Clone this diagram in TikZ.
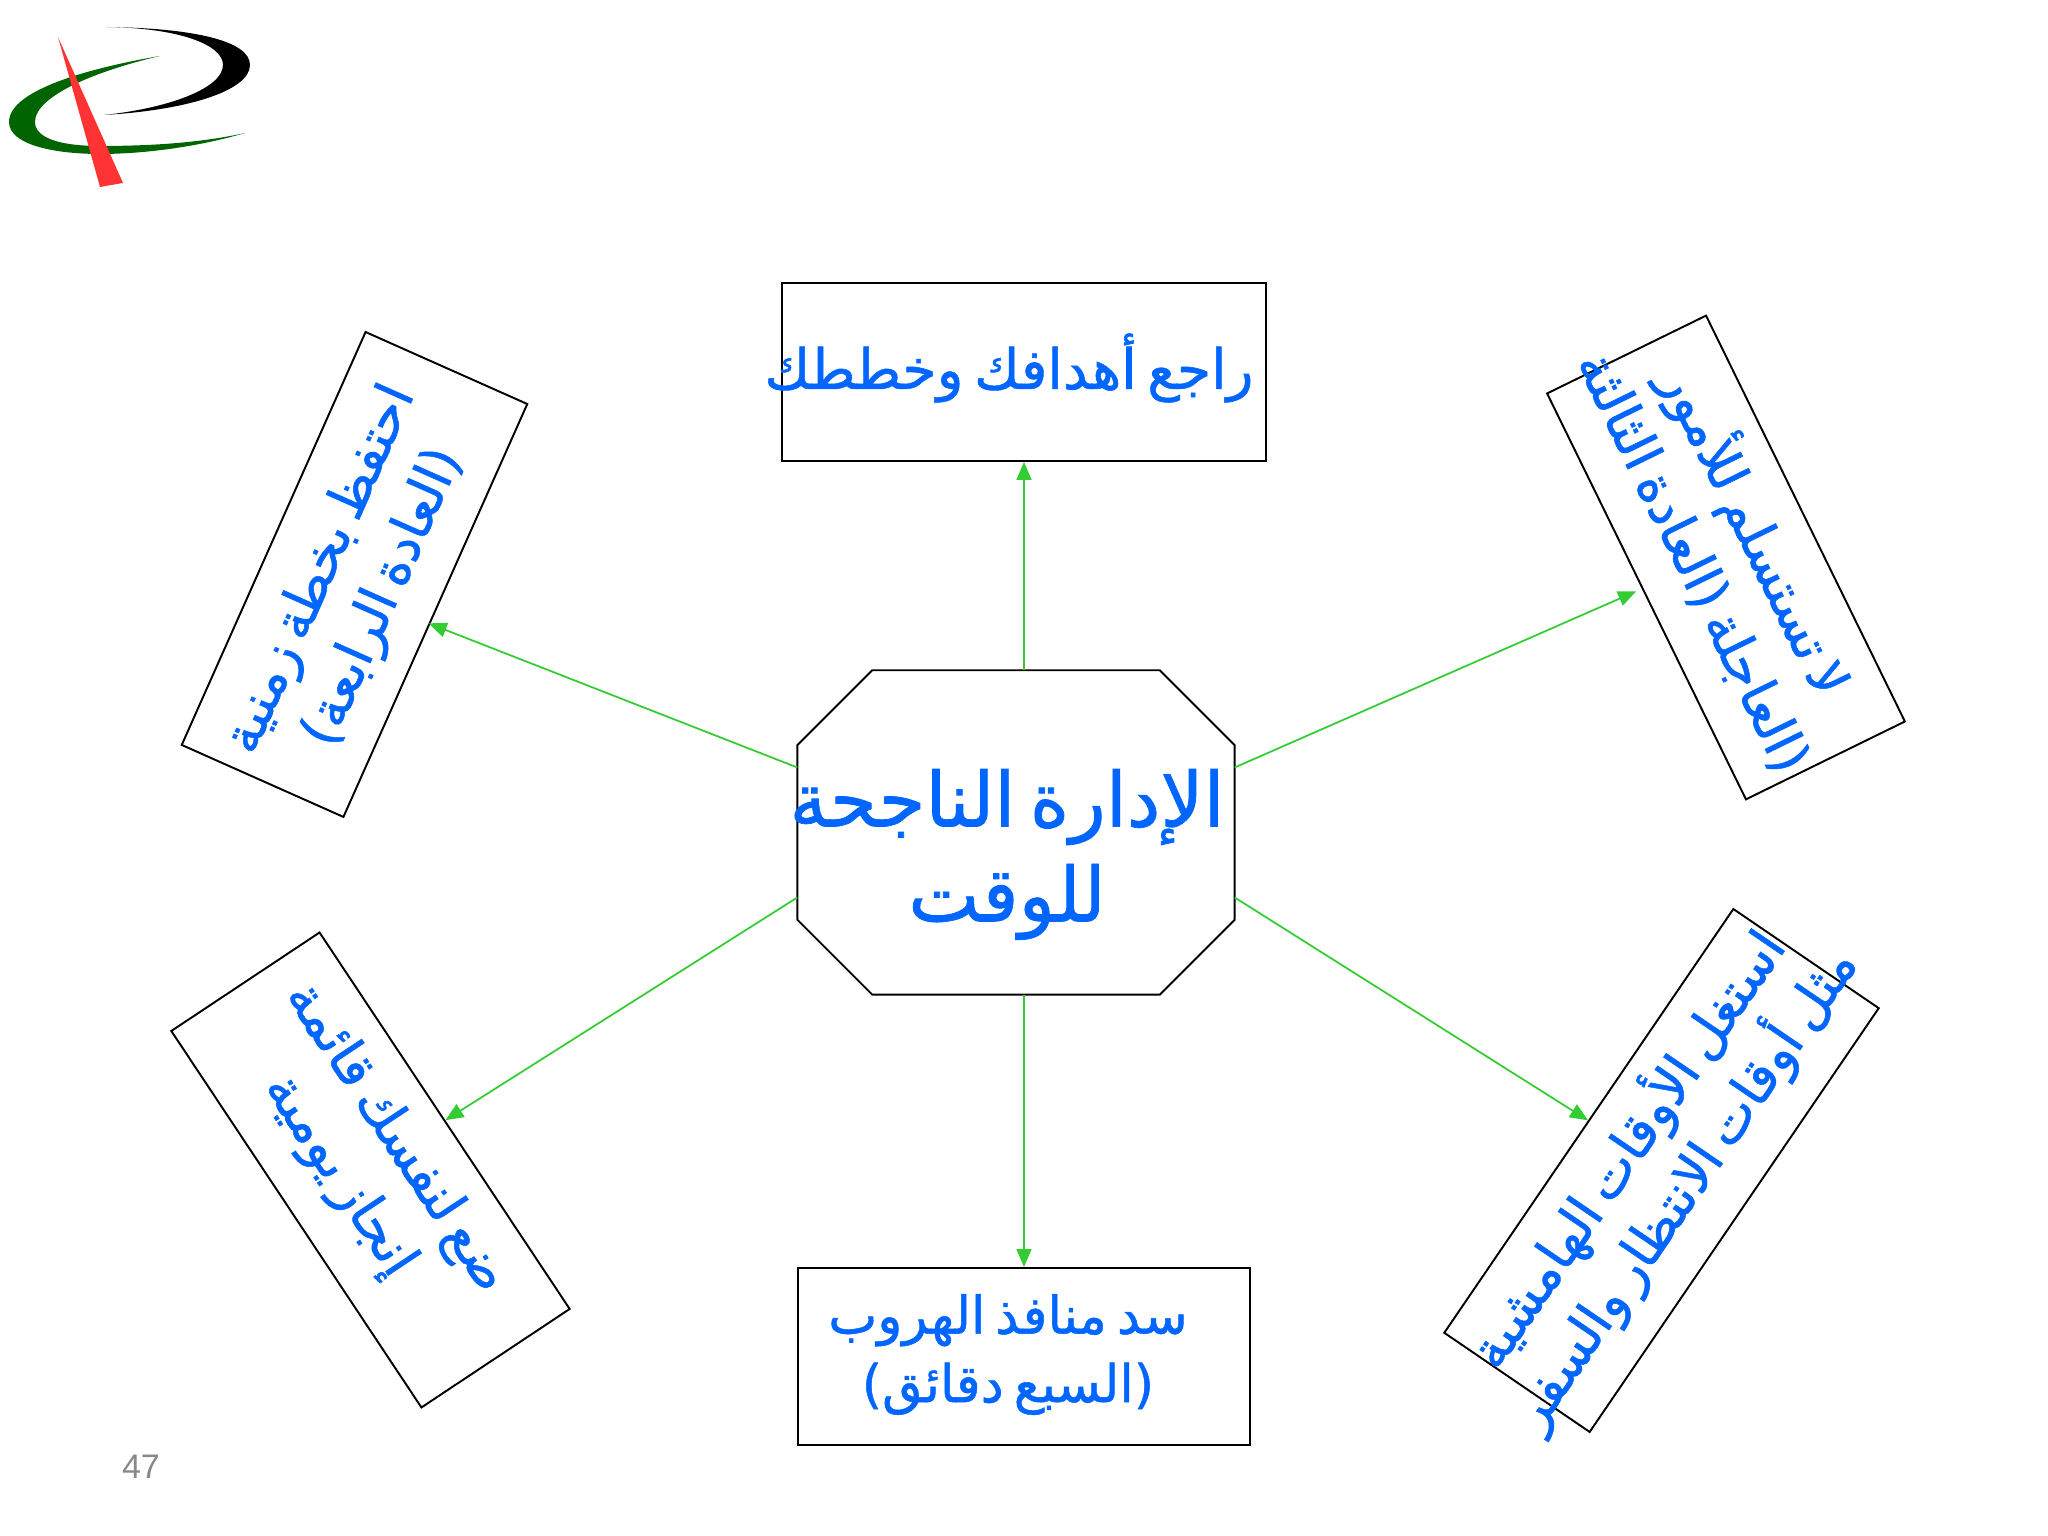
\documentclass[tikz,border=0pt]{standalone}
\usepackage{fontspec}
\usetikzlibrary{arrows.meta}
\TeXXeTstate=1
\newfontfamily\arabicfont[Script=Arabic,FakeBold=1,WordSpace=0.6]{DejaVu Sans}
\setmainfont{Liberation Sans}
\definecolor{txtblue}{HTML}{0066FF}
\definecolor{linkgreen}{HTML}{33CC33}
\definecolor{logogreen}{HTML}{006400}
\definecolor{logored}{HTML}{FF3333}
\definecolor{pagegray}{HTML}{898989}
\newcommand{\arline}[1]{\beginR #1\endR}
\tikzset{
    goalbox/.style={draw, line width=0.55pt, inner sep=0pt},
    goaltxt/.style={inner sep=0pt, align=center, text=txtblue, font=\arabicfont\fontsize{15.1}{19.5}\selectfont},
    link/.style={draw=linkgreen, line width=0.5pt, -{Triangle[length=0.18cm,width=0.15cm]}}
}
\begin{document}
\begin{tikzpicture}
        \useasboundingbox (0,0) rectangle (20.48,15.36);

        \fill[logogreen] (1.60,14.80) .. controls (0.90,14.68) and (0.09,14.46) .. (0.09,14.14) .. controls (0.09,13.91) and (0.55,13.82) .. (1.00,13.82) .. controls (1.50,13.82) and (2.05,13.91) .. (2.45,14.03) .. controls (2.00,13.93) and (1.50,13.90) .. (1.00,13.90) .. controls (0.60,13.90) and (0.35,13.98) .. (0.35,14.14) .. controls (0.35,14.41) and (1.00,14.66) .. (1.60,14.80) -- cycle;
        \fill[black] (1.06,15.09) .. controls (1.90,15.08) and (2.50,14.96) .. (2.50,14.71) .. controls (2.50,14.46) and (1.90,14.26) .. (1.04,14.21) .. controls (1.70,14.28) and (2.23,14.48) .. (2.23,14.71) .. controls (2.23,14.91) and (1.80,15.08) .. (1.06,15.09) -- cycle;
        \fill[logored] (0.58,14.99) -- (1.23,13.53) -- (1.00,13.49) -- cycle;

        \node[inner sep=0pt, minimum width=4.36cm, minimum height=3.23cm] (oct) at (10.16,7.035) {};
        \draw[line width=0.55pt] ([xshift=0.75cm]oct.north west) -- ([xshift=-0.75cm]oct.north east) -- ([yshift=-0.75cm]oct.north east) -- ([yshift=0.75cm]oct.south east) -- ([xshift=-0.75cm]oct.south east) -- ([xshift=0.75cm]oct.south west) -- ([yshift=0.75cm]oct.south west) -- ([yshift=-0.75cm]oct.north west) -- cycle;

        \node[goalbox, minimum width=4.84cm, minimum height=1.78cm] (topbox) at ([xshift=0.08cm, yshift=4.605cm]oct.center) {};
        \node[goalbox, minimum width=4.52cm, minimum height=1.77cm] (botbox) at ([xshift=0.08cm, yshift=-5.24cm]oct.center) {};
        \node[goalbox, minimum width=4.52cm, minimum height=1.77cm, rotate=66] (ulbox) at ([xshift=-6.615cm, yshift=2.58cm]oct.center) {};
        \node[goalbox, minimum width=4.52cm, minimum height=1.78cm, rotate=-56.4] (llbox) at ([xshift=-6.455cm, yshift=-3.375cm]oct.center) {};
        \node[goalbox, minimum width=5.13cm, minimum height=1.76cm, rotate=55.7] (lrbox) at ([xshift=6.455cm, yshift=-3.38cm]oct.center) {};
        \node[goalbox, minimum width=4.52cm, minimum height=1.77cm, rotate=-63.9] (urbox) at ([xshift=7.10cm, yshift=2.75cm]oct.center) {};

        \node[goaltxt, font=\arabicfont\fontsize{21.5}{27}\selectfont] (octtxt) at ([xshift=-0.09cm, yshift=-0.22cm]oct.center) {\arline{الإدارة الناجحة}\\\arline{للوقت}};
        \node[goaltxt, font=\arabicfont\fontsize{15.8}{19.5}\selectfont] (toptxt) at ([xshift=-0.15cm, yshift=0.04cm]topbox.center) {\arline{راجع أهدافك وخططك}};
        \node[goaltxt, font=\arabicfont\fontsize{14.8}{19.5}\selectfont] (bottxt) at ([xshift=-0.16cm, yshift=0.02cm]botbox.center) {\arline{سد منافذ الهروب}\\\arline{(السبع دقائق)}};
        \node[goaltxt, rotate=66] (ultxt) at ([xshift=-0.015cm, yshift=-0.095cm]ulbox.center) {\arline{احتفظ بخطة زمنية}\\\arline{(العادة الرابعة)}};
        \node[goaltxt, rotate=-56.4] (lltxt) at ([xshift=-0.035cm, yshift=0.13cm]llbox.center) {\arline{ضع لنفسك قائمة}\\\arline{إنجاز يومية}};
        \node[goaltxt, rotate=55.7] (lrtxt) at ([xshift=-0.065cm, yshift=0.02cm]lrbox.center) {\arline{استغل الأوقات الهامشية}\\\arline{مثل أوقات الانتظار والسفر}};
        \node[goaltxt, rotate=-63.9] (urtxt) at ([xshift=0.01cm, yshift=0.125cm]urbox.center) {\arline{لا تستسلم للأمور}\\\arline{(العاجلة (العادة الثالثة}};

        \node[inner sep=0pt, text=pagegray, font=\fontsize{9.7}{12}\selectfont] (pagenum) at (1.41,0.69) {47};

        \draw[link] (oct.north -| topbox.south) -- (topbox.south);
        \draw[link] (oct.south -| botbox.north) -- (botbox.north);
        \draw[link] ([yshift=0.65cm]oct.west) -- ([xshift=-0.075cm, yshift=-0.125cm]ulbox.south);
        \draw[link] ([yshift=-0.65cm]oct.west) -- (llbox.north);
        \draw[link] ([yshift=-0.65cm]oct.east) -- (lrbox.north);
        \draw[link] ([yshift=0.65cm]oct.east) -- ([xshift=-0.095cm, yshift=0.055cm]urbox.south);

    \end{tikzpicture}
\end{document}
